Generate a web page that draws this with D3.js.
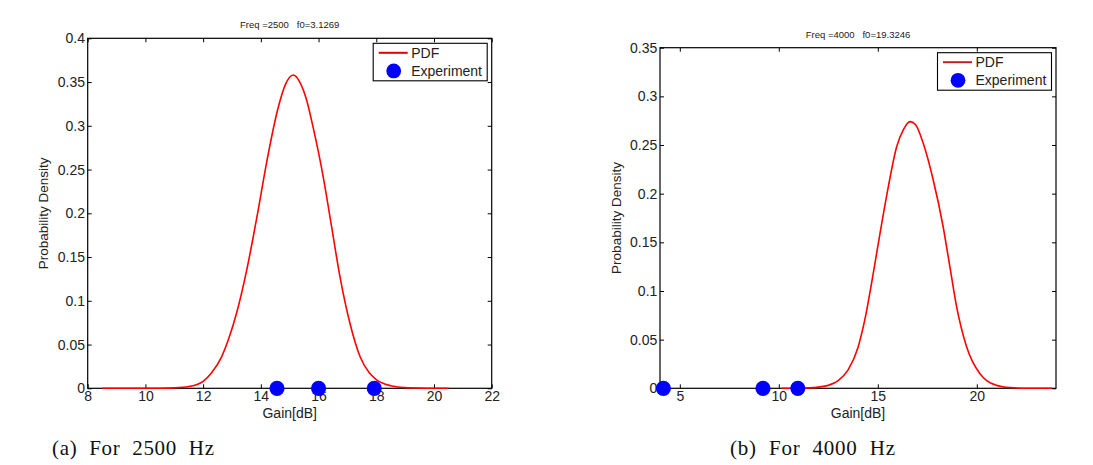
<!DOCTYPE html>
<html>
<head>
<meta charset="utf-8">
<script src="https://cdn.jsdelivr.net/npm/d3@7"></script>
<style>
  body { margin: 0; background: #fff; }
  text { font-family: 'Liberation Sans', Arial, sans-serif; fill: #222; }
  .caption { font-family: 'Liberation Serif', 'Times New Roman', serif; fill: #111; }
  .eje line { stroke: #000; }
  .eje path { display: none; }
</style>
</head>
<body>
<div id="graf"></div>
<script>
// datos
leftX = [8.5, 9, 9.5, 10, 10.5, 11, 11.5, 12, 12.3, 12.64, 12.9, 13.16, 13.51, 13.86, 14.2, 14.58, 14.85, 15.12, 15.35, 15.59, 15.82, 16.16, 16.45, 16.74, 17.09, 17.44, 17.75, 18, 18.5, 19, 19.5, 20, 20.5]
leftY = [0, 0, 0, 0, 0.0001, 0.0005, 0.002, 0.008, 0.018, 0.036, 0.058, 0.086, 0.135, 0.195, 0.258, 0.318, 0.347, 0.358, 0.350, 0.329, 0.297, 0.242, 0.185, 0.128, 0.074, 0.036, 0.018, 0.010, 0.003, 0.0008, 0.0002, 0, 0]
leftExp = [14.56, 16.0, 17.93]

rightX = [10.15, 10.5, 11, 11.5, 12, 12.5, 13, 13.5, 14, 14.34, 14.77, 15.11, 15.53, 15.95, 16.3, 16.63, 16.9, 17.29, 17.8, 18.3, 18.64, 18.98, 19.48, 20.16, 20.5, 21, 21.5, 22, 22.5, 23, 23.8]
rightY = [0, 0, 0.0001, 0.0004, 0.0012, 0.003, 0.008, 0.019, 0.042, 0.070, 0.118, 0.159, 0.207, 0.248, 0.266, 0.274, 0.271, 0.252, 0.214, 0.166, 0.125, 0.084, 0.043, 0.015, 0.008, 0.003, 0.001, 0.0003, 0, 0, 0]
rightExp = [4.17, 9.2, 10.96]

leftXTicks = [8, 10, 12, 14, 16, 18, 20, 22]
leftYTicks = [0, 0.05, 0.1, 0.15, 0.2, 0.25, 0.3, 0.35, 0.4]
rightXTicks = [5, 10, 15, 20]
rightYTicks = [0, 0.05, 0.1, 0.15, 0.2, 0.25, 0.3, 0.35]

leftXDomain = [8, 22]
leftYDomain = [0, 0.4]
rightXDomain = [4, 24]
rightYDomain = [0, 0.35]

titles = ['Freq =2500   f0=3.1269', 'Freq =4000   f0=19.3246']
captions = ['(a)  For  2500  Hz', '(b)  For  4000  Hz']

// I. Configuración
ancho_total = 1093
alto_total = 465

svg = d3.select('#graf').append('svg')
        .attr('width', ancho_total)
        .attr('height', alto_total)

paneles = [
  { box: [87.7, 491.7, 38.3, 388.3], xd: leftXDomain, yd: leftYDomain, xt: leftXTicks, yt: leftYTicks,
    xs: leftX, ys: leftY, exp: leftExp, titulo: titles[0], cap: captions[0], capX: 52, capW: 162, legLine: '#e00000' },
  { box: [660, 1056, 47.7, 388.3], xd: rightXDomain, yd: rightYDomain, xt: rightXTicks, yt: rightYTicks,
    xs: rightX, ys: rightY, exp: rightExp, titulo: titles[1], cap: captions[1], capX: 730, capW: 165, legLine: '#c0202a' }
]

paneles.forEach(p => {
  x0 = p.box[0]; x1 = p.box[1]; y0 = p.box[2]; y1 = p.box[3]

  x = d3.scaleLinear().domain(p.xd).range([x0, x1])
  y = d3.scaleLinear().domain(p.yd).range([y1, y0])

  g = svg.append('g')

  // ejes con marcas hacia dentro, estilo matlab
  g.append('g').attr('class', 'eje')
    .attr('transform', `translate(0, ${y1})`)
    .call(d3.axisBottom(x).tickValues(p.xt).tickSize(-4).tickSizeOuter(0).tickPadding(2.5).tickFormat(d3.format('~g')))
    .selectAll('text').style('font-size', '14px').style('font-family', "'Liberation Sans', Arial, sans-serif").attr('fill', '#222')

  g.append('g').attr('class', 'eje')
    .attr('transform', `translate(0, ${y0})`)
    .call(d3.axisTop(x).tickValues(p.xt).tickSize(-4).tickSizeOuter(0).tickFormat(''))

  g.append('g').attr('class', 'eje')
    .attr('transform', `translate(${x0}, 0)`)
    .call(d3.axisLeft(y).tickValues(p.yt).tickSize(-4).tickSizeOuter(0).tickPadding(2.7).tickFormat(d3.format('~g')))
    .selectAll('text').style('font-size', '14px').style('font-family', "'Liberation Sans', Arial, sans-serif").attr('fill', '#222')

  g.append('g').attr('class', 'eje')
    .attr('transform', `translate(${x1}, 0)`)
    .call(d3.axisRight(y).tickValues(p.yt).tickSize(-4).tickSizeOuter(0).tickFormat(''))

  g.append('rect')
    .attr('x', x0).attr('y', y0)
    .attr('width', x1 - x0).attr('height', y1 - y0)
    .attr('fill', 'none').attr('stroke', '#000').attr('stroke-width', 1.2)

  // curva PDF
  linea = d3.line().curve(d3.curveMonotoneX).x(d => x(d[0])).y(d => y(d[1]))
  g.append('path')
    .datum(p.xs.map((v, i) => [v, p.ys[i]]))
    .attr('d', linea)
    .attr('fill', 'none')
    .attr('stroke', '#ff0000')
    .attr('stroke-width', 1.6)
    .attr('stroke-linejoin', 'round')

  // puntos experimentales
  g.selectAll('circle.exp')
    .data(p.exp)
    .enter().append('circle')
      .attr('class', 'exp')
      .attr('cx', d => x(d))
      .attr('cy', y(0))
      .attr('r', 7.6)
      .attr('fill', '#0000ff')

  // textos
  g.append('text')
    .attr('x', (x0 + x1) / 2).attr('y', y0 - 10)
    .attr('text-anchor', 'middle')
    .attr('xml:space', 'preserve')
    .style('font-size', '9.5px')
    .text(p.titulo)

  g.append('text')
    .attr('x', (x0 + x1) / 2).attr('y', y1 + 29.7)
    .attr('text-anchor', 'middle')
    .style('font-size', '14px')
    .text('Gain[dB]')

  g.append('text')
    .attr('transform', `translate(${x0 - 44}, ${(y0 + y1) / 2}) rotate(-90)`)
    .attr('dy', '0.35em')
    .attr('text-anchor', 'middle')
    .style('font-size', '13.5px')
    .text('Probability Density')

  g.append('text')
    .attr('class', 'caption')
    .attr('x', p.capX).attr('y', 455)
    .attr('textLength', p.capW)
    .attr('lengthAdjust', 'spacing')
    .attr('xml:space', 'preserve')
    .style('font-size', '21px')
    .text(p.cap)

  // leyenda
  lw = 114; lh = 37.5
  lx = x1 - 4.5 - lw; ly = y0 + 5
  leg = g.append('g').attr('transform', `translate(${lx}, ${ly})`)
  leg.append('rect')
    .attr('width', lw).attr('height', lh)
    .attr('fill', '#fff').attr('stroke', '#000').attr('stroke-width', 1.1)
  leg.append('line')
    .attr('x1', 5.5).attr('x2', 34.5).attr('y1', 9.5).attr('y2', 9.5)
    .attr('stroke', p.legLine).attr('stroke-width', 2)
  leg.append('text')
    .attr('x', 38).attr('y', 9.5).attr('dy', '0.36em')
    .style('font-size', '14px')
    .text('PDF')
  leg.append('circle')
    .attr('cx', 20.5).attr('cy', 27.6).attr('r', 7.4)
    .attr('fill', '#0000ff')
  leg.append('text')
    .attr('x', 38).attr('y', 27.6).attr('dy', '0.36em')
    .style('font-size', '14px')
    .text('Experiment')
})
</script>
</body>
</html>
